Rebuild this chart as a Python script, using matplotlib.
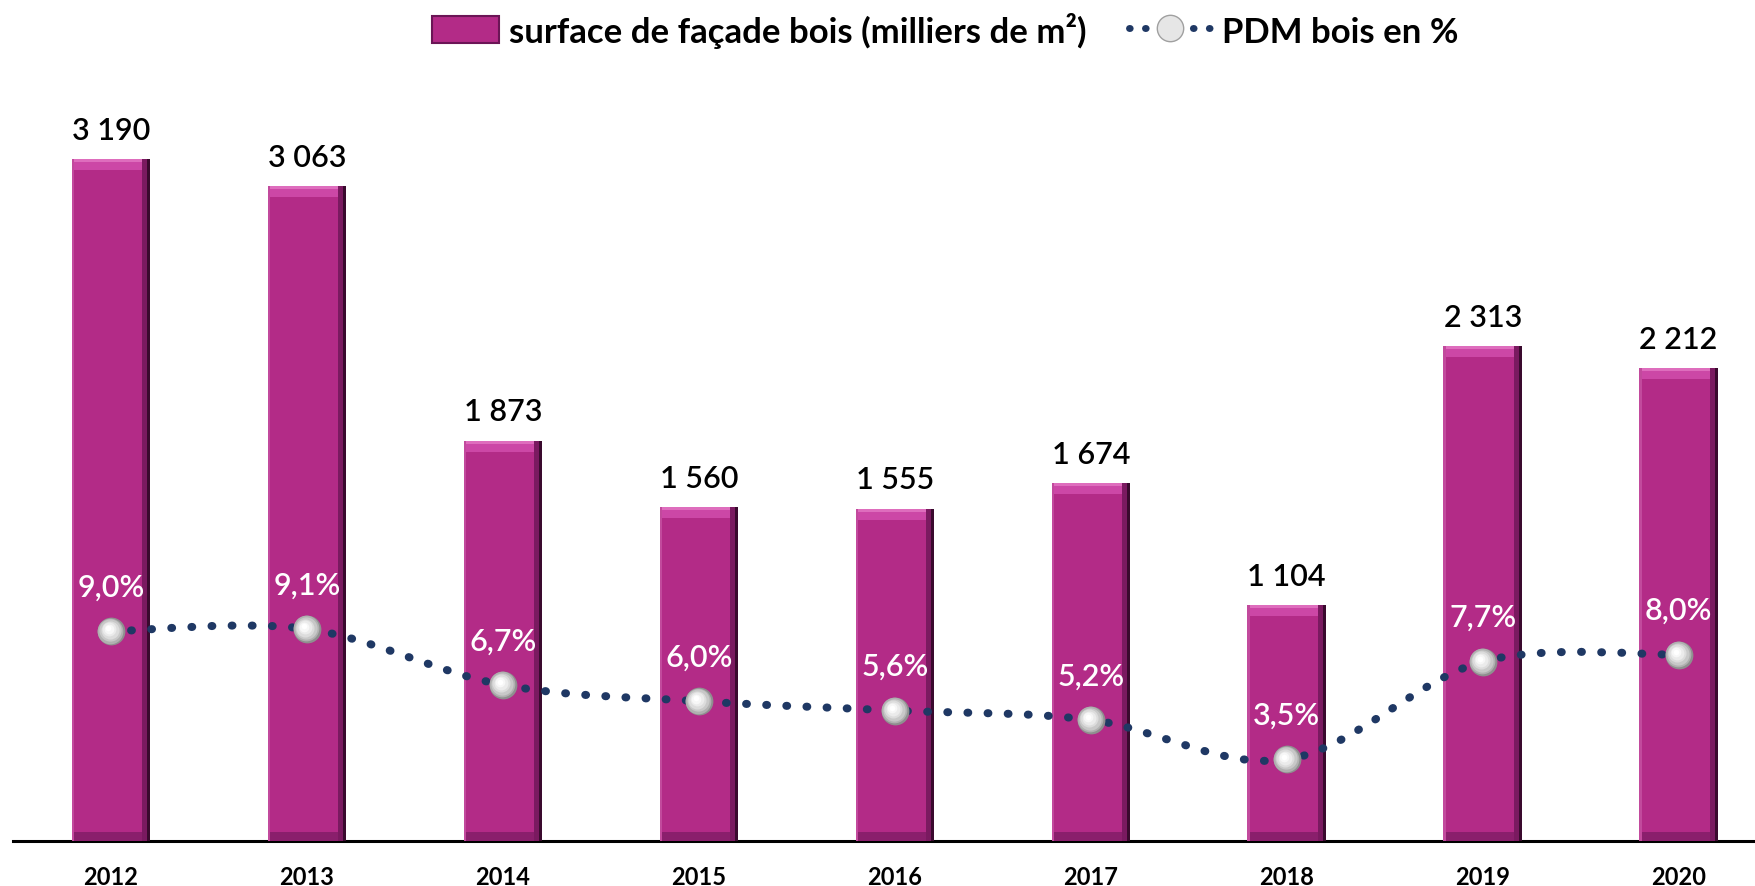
import numpy as np
import matplotlib.pyplot as plt
import matplotlib.transforms as mtransforms
from matplotlib.path import Path
from matplotlib.patches import PathPatch, Patch, Rectangle
from matplotlib.lines import Line2D
from matplotlib.legend_handler import HandlerPatch

plt.rcParams['font.family'] = ['Lato', 'DejaVu Sans']

years = ['2012', '2013', '2014', '2015', '2016', '2017', '2018', '2019', '2020']
surface = [3190, 3063, 1873, 1560, 1555, 1674, 1104, 2313, 2212]
pdm = [9.0, 9.1, 6.7, 6.0, 5.6, 5.2, 3.5, 7.7, 8.0]

bar_col = '#B32B87'
line_col = '#1F3864'

fig = plt.figure(figsize=(17.55, 8.87), dpi=100)
ax = fig.add_axes([13 / 1755, 45 / 887, 1 - 13 / 1755, 772 / 887])
ax2 = ax.twinx()

x = np.arange(len(years))
w = 0.40
ymax = 772 / 0.2138
ax.set_ylim(0, ymax)
ax.set_xlim(-0.5, 8.39)
ax2.set_ylim(0, 772 / 23.3)

# bars with a rough bevel look
px = ymax / 772  # data units per pixel
vals = np.array(surface)
ax.bar(x, vals, width=w, color=bar_col, zorder=2)
ax.bar(x, 11 * px, bottom=vals - 11 * px, width=w, color='#cc47a6', zorder=3)
ax.bar(x, 3 * px, bottom=vals - 3 * px, width=w, color='#de6dbd', zorder=3)
ax.bar(x, 9 * px, width=w, color='#8a1f6c', zorder=3)
ax.bar(x + w / 2 - 0.02, vals, width=0.04, color='#7a1a60', zorder=4)
ax.bar(x + w / 2 - 0.008, vals, width=0.016, color='#3a0a2e', zorder=4)
ax.bar(x - w / 2 + 0.006, vals, width=0.012, color='#c24a9d', zorder=4)

for i, v in enumerate(surface):
    ax.annotate(f"{v:,}".replace(",", " "), (i, v), xytext=(0, 21),
                textcoords='offset points', ha='center', va='center',
                fontsize=22, fontweight='semibold', color='black')

# smoothed dotted line (catmull-rom as bezier segments)
pts = np.column_stack([x, pdm]).astype(float)
ext = np.vstack([pts[0], pts, pts[-1]])
verts = [tuple(pts[0])]
codes = [Path.MOVETO]
for i in range(len(pts) - 1):
    p0, p1, p2, p3 = ext[i], ext[i + 1], ext[i + 2], ext[i + 3]
    c1 = p1 + (p2 - p0) / 6
    c2 = p2 - (p3 - p1) / 6
    verts += [tuple(c1), tuple(c2), tuple(p2)]
    codes += [Path.CURVE4] * 3
line = PathPatch(Path(verts, codes), fill=False, edgecolor=line_col,
                 linewidth=5.8, linestyle=(0, (0.1, 2.4)), zorder=3)
line.set_capstyle('round')
ax2.add_patch(line)

# sphere-like markers, highlight shifted up-left
ax2.scatter(x, pdm, s=20 ** 2, color='#8f8f8f', zorder=5, linewidths=0)
layers = [(18.5, '#b0b0b0'), (16, '#c8c8c8'), (13, '#dcdcdc'), (10, '#ebebeb'),
          (7, '#f7f7f7'), (4, 'white')]
for k, (s, c) in enumerate(layers):
    off = mtransforms.offset_copy(ax2.transData, fig=fig, x=-0.35 * (k + 1),
                                  y=0.35 * (k + 1), units='points')
    ax2.scatter(x, pdm, s=s ** 2, color=c, zorder=5, linewidths=0, transform=off)

for i, p in enumerate(pdm):
    ax2.annotate(f"{p:.1f}%".replace(".", ","), (i, p), xytext=(0, 32),
                 textcoords='offset points', ha='center', va='center',
                 fontsize=22, fontweight='semibold', color='white')

ax.set_xticks(x)
ax.set_xticklabels(years, fontsize=17, fontweight='bold')
ax.tick_params(axis='x', length=0, pad=17)
ax.set_yticks([])
ax2.set_yticks([])
for sp in ['top', 'left', 'right']:
    ax.spines[sp].set_visible(False)
    ax2.spines[sp].set_visible(False)
ax2.spines['bottom'].set_visible(False)
ax.spines['bottom'].set_linewidth(2.2)
ax.spines['bottom'].set_color('black')


def box_handle(legend, orig_handle, xdescent, ydescent, width, height, fontsize):
    return Rectangle((-xdescent + width * 0.2, -ydescent + height * 0.1),
                     width * 0.8, height * 0.85)


handles = [
    Patch(facecolor=bar_col, edgecolor='#6b1556', linewidth=1.5),
    Line2D([0], [0], color=line_col, linewidth=5, linestyle=(0, (0.1, 2.2)),
           dash_capstyle='round', marker='o', markersize=19,
           markerfacecolor='#e6e6e6', markeredgecolor='#a0a0a0'),
]
fig.legend(handles, ['surface de façade bois (milliers de m²)', 'PDM bois en %'],
           loc='center', bbox_to_anchor=(0.534, 0.965), ncol=2, frameon=False,
           prop={'size': 25, 'weight': 'bold'}, handlelength=2.4,
           handleheight=1.0, columnspacing=1.2, handletextpad=0.3,
           handler_map={Patch: HandlerPatch(patch_func=box_handle)})

fig.savefig('out.png', dpi=100)
